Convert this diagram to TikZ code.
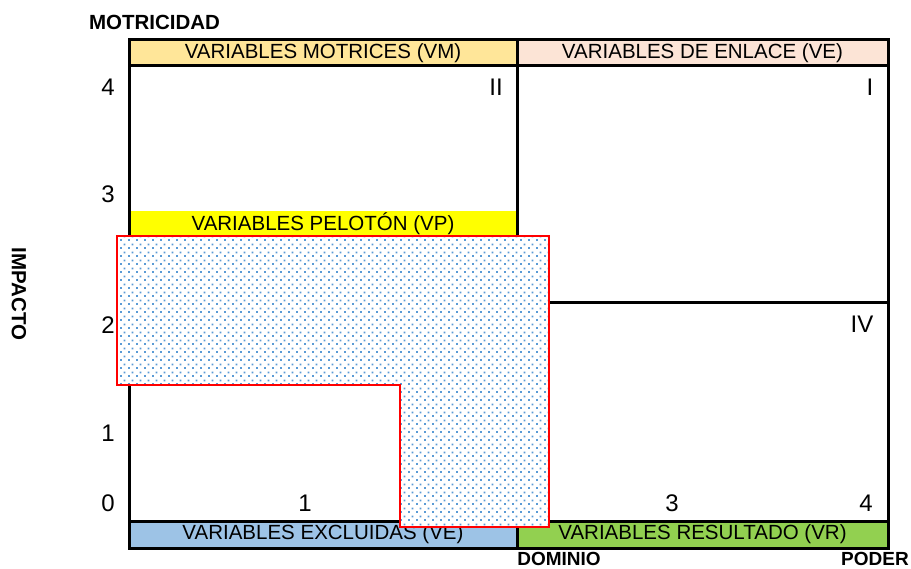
\documentclass[tikz,border=0pt]{standalone}
\usepackage{fontspec}
\setmainfont{Liberation Sans}
\usetikzlibrary{patterns.meta}
\definecolor{vmcol}{HTML}{FFE699}
\definecolor{vecol}{HTML}{FCE4D6}
\definecolor{vpcol}{HTML}{FFFF00}
\definecolor{vxcol}{HTML}{9DC3E6}
\definecolor{vrcol}{HTML}{92D050}
\definecolor{dotcol}{HTML}{5B9BD5}
\tikzdeclarepattern{
  name=bluedots,
  type=uncolored,
  bounding box={(0pt,0pt) and (8pt,8pt)},
  tile size={(8pt,8pt)},
  code={\fill (0pt,0pt) rectangle (2pt,2pt); \fill (4pt,4pt) rectangle (6pt,6pt);}
}
\tikzset{
  band/.style={inner sep=0pt,minimum height=26pt},
  num/.style={font=\fontsize{24}{28}\selectfont,inner sep=0pt},
  lbl/.style={font=\fontsize{20.5}{24}\selectfont\bfseries,inner sep=0pt},
  lblsmall/.style={lbl,font=\fontsize{19}{22}\selectfont\bfseries},
}
\begin{document}
\begin{tikzpicture}[x=1pt,y=-1pt,font=\fontsize{20.5}{24}\selectfont]
    \useasboundingbox (0,0) rectangle (911,569);
    % bandas de color
    \node [band,fill=vmcol,minimum width=388pt] (vm) at (323,53) {VARIABLES MOTRICES (VM)};
    \node [band,fill=vecol,minimum width=371pt] (ve) at (702.5,53) {VARIABLES DE ENLACE (VE)};
    \node [band,fill=vpcol,minimum width=386pt,minimum height=25pt] (vp) at (323,223.5) {VARIABLES PELOT\'ON (VP)};
    \node [band,fill=vxcol,minimum width=388pt] (vx) at (323,534.5) {VARIABLES EXCLUIDAS (VE)};
    \node [band,fill=vrcol,minimum width=371pt] (vr) at (702.5,534.5) {VARIABLES RESULTADO (VR)};
    % cuadrantes
    \draw [line width=3pt] (129,40) rectangle (888,548);
    \draw [line width=3pt] (517,40) -- (517,548);
    \draw [line width=3pt] (129,66) -- (888,66);
    \draw [line width=3pt] (129,521) -- (888,521);
    \draw [line width=3pt] (517,303) -- (888,303);
    % zona marcada
    \draw [red,line width=2pt,preaction={fill=white},pattern=bluedots,pattern color=dotcol]
        (117,236) -- (549,236) -- (549,527) -- (400,527) -- (400,385) -- (117,385) -- cycle;
    % escalas
    \foreach \n/\y in {4/87,3/194,2/325,1/433,0/503}
        \node [num] (y\n) at (108,\y) {\n};
    \foreach \n/\x in {1/305,3/672,4/866}
        \node [num] (x\n) at (\x,503) {\n};
    \node [num] (q2) at (496,87) {II};
    \node [num] (q1) at (870,87) {I};
    \node [num] (q4) at (862,324) {IV};
    % ejes
    \node [lbl] (motr) at (154.5,22) {MOTRICIDAD};
    \node [lbl,rotate=-90] (imp) at (19,294) {IMPACTO};
    \node [lblsmall] (dom) at (559,559) {DOMINIO};
    \node [lblsmall,anchor=east] (pod) at (909,559) {PODER};
\end{tikzpicture}
\end{document}
